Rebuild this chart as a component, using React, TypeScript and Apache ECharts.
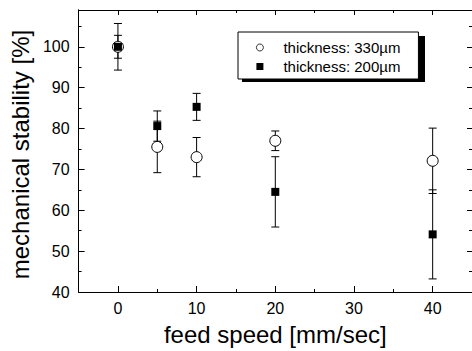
import React, { useEffect, useRef } from "react";
import * as echarts from "echarts";

const speeds = [0, 5, 10, 20, 40];
const thick330 = [100, 75.5, 73.0, 77.0, 72.1];
const err330 = [5.7, 6.3, 4.8, 2.4, 8.0];
const thick200 = [100, 80.6, 85.3, 64.5, 54.1];
const err200 = [2.8, 3.7, 3.3, 8.6, 10.9];

const xMajor = [0, 10, 20, 30, 40];
const xMinor = [-5, 5, 15, 25, 35, 45];
const yMajor = [40, 50, 60, 70, 80, 90, 100];
const yMinor = [45, 55, 65, 75, 85, 95, 105];

const name330 = "thickness: 330µm";
const name200 = "thickness: 200µm";

const FONT = "Liberation Sans, Arial, sans-serif";

function errRender(params: any, api: any) {
  const x = api.value(0);
  const y = api.value(1);
  const e = api.value(2);
  const top = api.coord([x, y + e]);
  const bot = api.coord([x, y - e]);
  const hw = 4;
  const style = { stroke: "#000", lineWidth: 1 };
  return {
    type: "group",
    children: [
      { type: "line", shape: { x1: top[0], y1: top[1], x2: bot[0], y2: bot[1] }, style },
      { type: "line", shape: { x1: top[0] - hw, y1: top[1], x2: top[0] + hw, y2: top[1] }, style },
      { type: "line", shape: { x1: bot[0] - hw, y1: bot[1], x2: bot[0] + hw, y2: bot[1] }, style },
    ],
  };
}

export default function App() {
  const ref = useRef<HTMLDivElement>(null);
  useEffect(() => {
    if (!ref.current) return;
    const chart = echarts.init(ref.current, undefined, { renderer: "svg" });
    const lineStyle = { color: "#000", width: 1 };
    const xBase = {
      type: "value",
      min: -5,
      max: 45,
      splitLine: { show: false },
    };
    const yBase = {
      type: "value",
      min: 40,
      max: 109,
      splitLine: { show: false },
    };
    const mkX = (position: string, values: number[], len: number, main: boolean) => ({
      ...xBase,
      position,
      axisLine: { show: main || position === "top", onZero: false, lineStyle },
      axisTick: { show: true, inside: true, length: len, customValues: values, lineStyle },
      axisLabel: main
        ? { show: true, customValues: xMajor, fontSize: 16, color: "#000", fontFamily: FONT, margin: 8 }
        : { show: false },
    });
    const mkY = (position: string, values: number[], len: number, main: boolean) => ({
      ...yBase,
      position,
      axisLine: { show: true, onZero: false, lineStyle },
      axisTick: { show: true, inside: true, length: len, customValues: values, lineStyle },
      axisLabel: main
        ? { show: true, customValues: yMajor, fontSize: 16, color: "#000", fontFamily: FONT, margin: 9 }
        : { show: false },
    });
    const xAxes: any[] = [
      {
        ...mkX("bottom", xMajor, 6, true),
        name: "feed speed [mm/sec]",
        nameLocation: "middle",
        nameGap: 30,
        nameTextStyle: { fontSize: 24, color: "#000", fontFamily: FONT },
      },
      mkX("bottom", xMinor, 3, false),
      mkX("top", xMajor, 5, false),
      mkX("top", xMinor, 3, false),
    ];
    const yAxes: any[] = [
      {
        ...mkY("left", yMajor, 6, true),
        name: "mechanical stability [%]",
        nameLocation: "middle",
        nameGap: 42,
        nameTextStyle: { fontSize: 24, color: "#000", fontFamily: FONT, padding: [0, 7, 0, 0] },
      },
      mkY("left", yMinor, 3, false),
      mkY("right", yMajor, 5, false),
      mkY("right", yMinor, 3, false),
    ];
    chart.setOption({
      animation: false,
      backgroundColor: "#fff",
      grid: { left: 77, top: 10, width: 397, height: 283, containLabel: false },
      xAxis: xAxes,
      yAxis: yAxes,
      legend: {
        left: 238,
        top: 32,
        orient: "vertical",
        backgroundColor: "#fff",
        borderColor: "#000",
        borderWidth: 1,
        borderRadius: 0,
        padding: [8, 18, 5, 18],
        itemWidth: 7,
        itemHeight: 7,
        itemGap: 4,
        textStyle: { fontSize: 15, color: "#000", fontFamily: FONT, padding: [0, 0, 0, 15] },
        data: [
          { name: name330, icon: "circle", itemStyle: { color: "#fff", borderColor: "#000", borderWidth: 0.8 } },
          { name: name200, icon: "rect", itemStyle: { color: "#000", borderWidth: 0 } },
        ],
        z: 10,
      },
      graphic: [
        {
          type: "rect",
          shape: { x: 242, y: 36, width: 183, height: 46 },
          style: { fill: "#000" },
          z: 5,
        },
      ],
      series: [
        {
          type: "custom",
          name: "err330",
          renderItem: errRender,
          data: speeds.map((s, i) => [s, thick330[i], err330[i]]),
          encode: { x: 0, y: 1 },
          z: 1,
          clip: false,
        },
        {
          type: "custom",
          name: "err200",
          renderItem: errRender,
          data: speeds.map((s, i) => [s, thick200[i], err200[i]]),
          encode: { x: 0, y: 1 },
          z: 1,
          clip: false,
        },
        {
          type: "scatter",
          name: name330,
          symbol: "circle",
          symbolSize: 11,
          itemStyle: { color: "#fff", borderColor: "#000", borderWidth: 1, opacity: 1 },
          data: speeds.map((s, i) => [s, thick330[i]]),
          z: 2,
        },
        {
          type: "scatter",
          name: name200,
          symbol: "rect",
          symbolSize: 8,
          itemStyle: { color: "#000", opacity: 1 },
          data: speeds.map((s, i) => [s, thick200[i]]),
          z: 3,
        },
      ],
    });
    return () => chart.dispose();
  }, []);
  return (
    <div
      ref={ref}
      style={{ position: "fixed", left: 0, top: 0, width: 472, height: 351 }}
    />
  );
}
